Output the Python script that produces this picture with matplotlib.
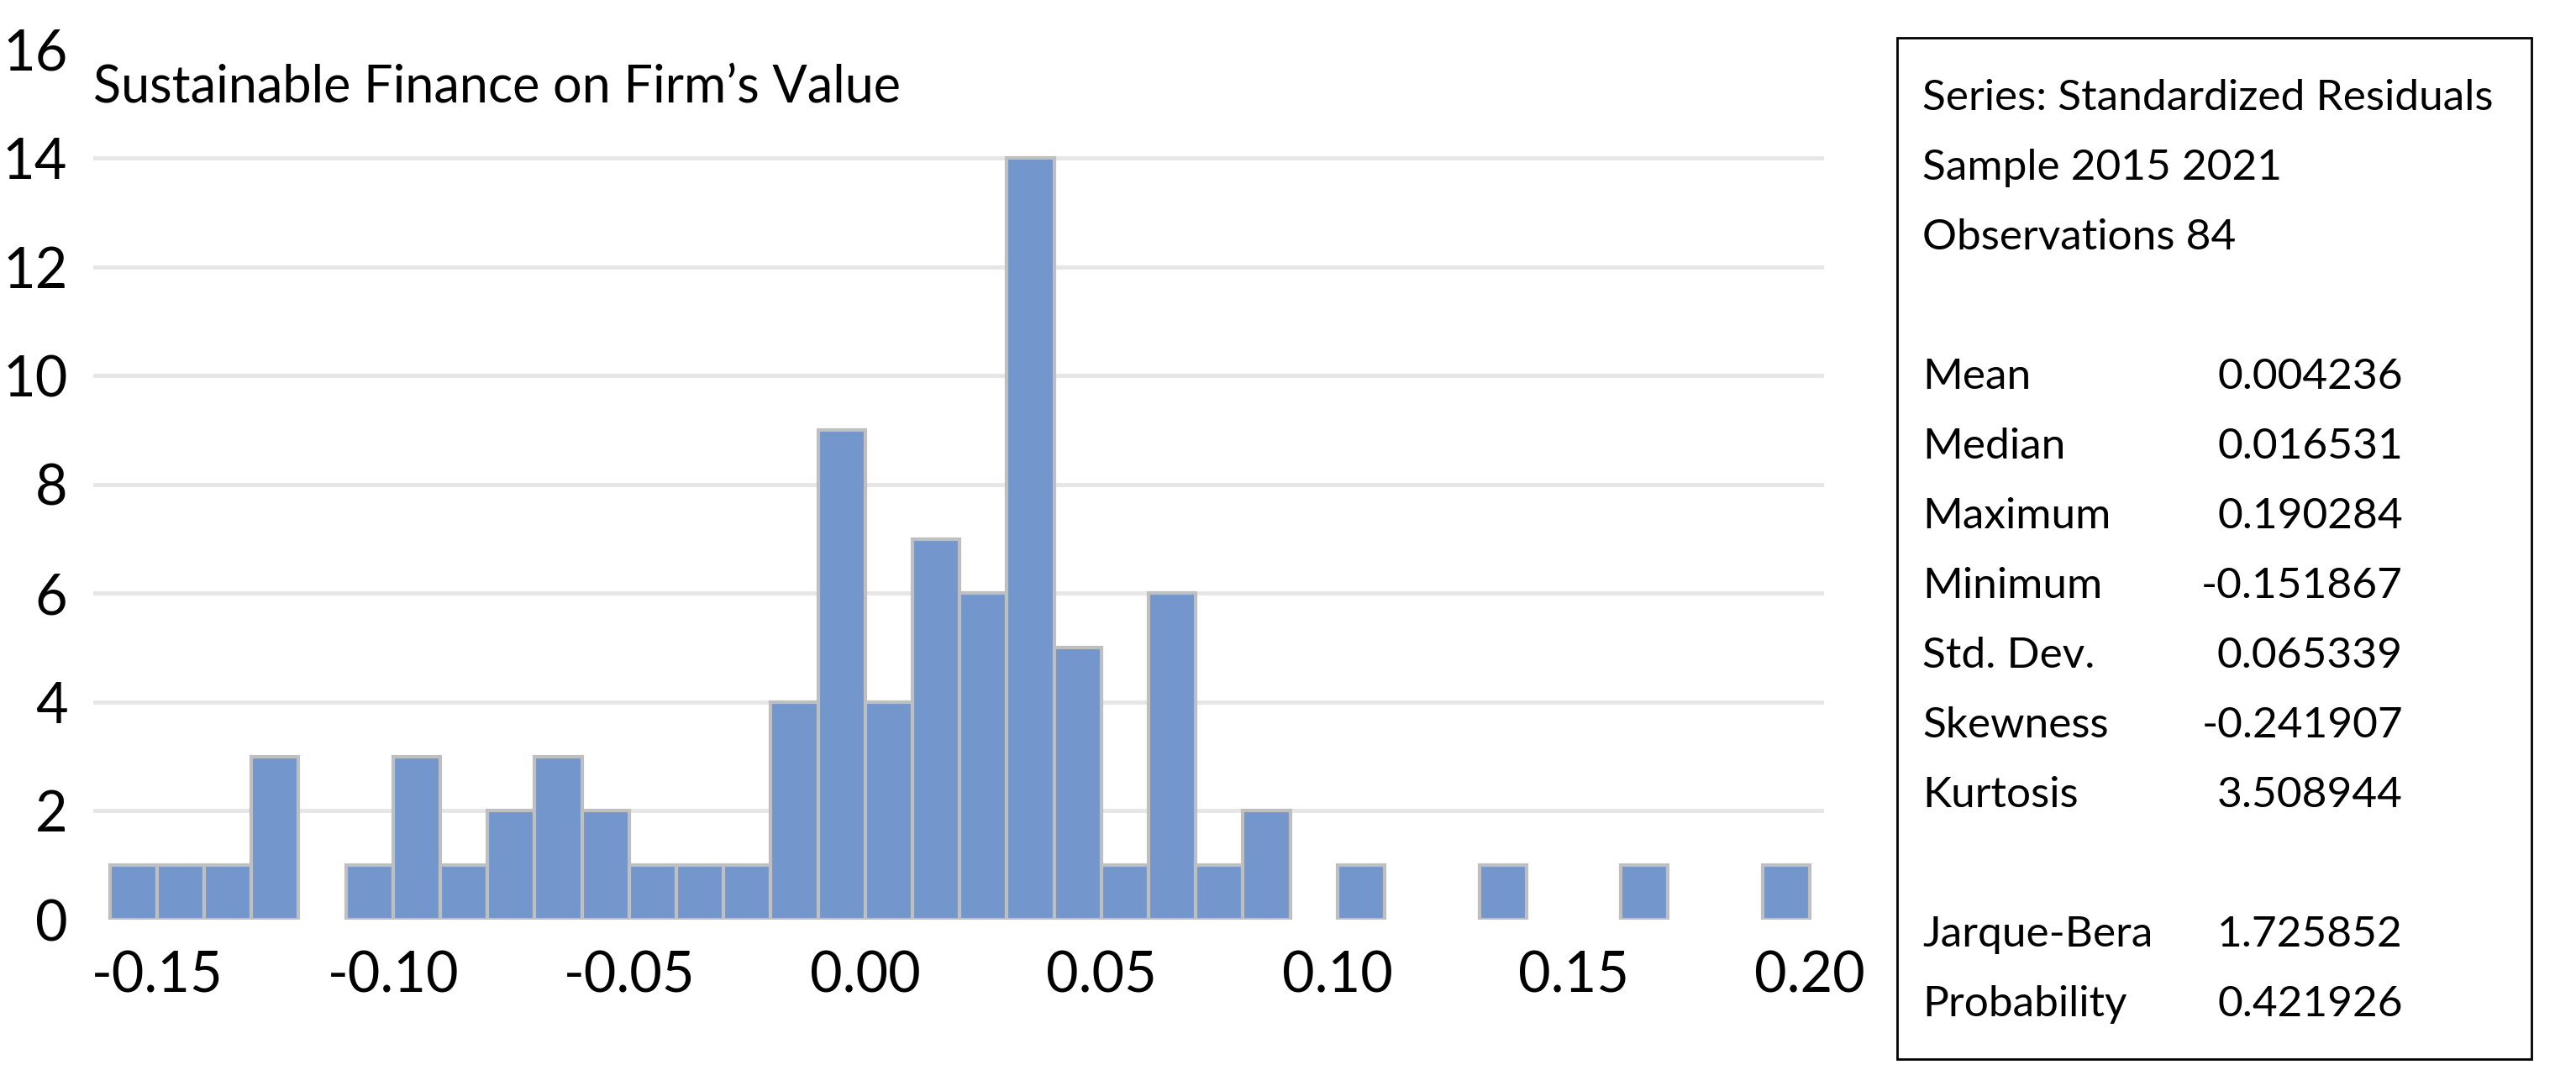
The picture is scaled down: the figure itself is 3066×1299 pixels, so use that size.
import matplotlib
matplotlib.use('Agg')
import matplotlib.pyplot as plt

# histogram of residuals, bins 0.01 wide
bin_left = [-0.16, -0.15, -0.14, -0.13, -0.12, -0.11, -0.10, -0.09, -0.08, -0.07,
            -0.06, -0.05, -0.04, -0.03, -0.02, -0.01, 0.00, 0.01, 0.02, 0.03,
            0.04, 0.05, 0.06, 0.07, 0.08, 0.09, 0.10, 0.11, 0.12, 0.13,
            0.14, 0.15, 0.16, 0.17, 0.18, 0.19]
counts = [1, 1, 1, 3, 0, 1, 3, 1, 2, 3,
          2, 1, 1, 1, 4, 9, 4, 7, 6, 14,
          5, 1, 6, 1, 2, 0, 1, 0, 0, 1,
          0, 0, 1, 0, 0, 1]
xticks = [-0.15, -0.10, -0.05, 0.00, 0.05, 0.10, 0.15, 0.20]
yticks = [0, 2, 4, 6, 8, 10, 12, 14, 16]

title = 'Sustainable Finance on Firm\u2019s Value'
header = ['Series: Standardized Residuals', 'Sample 2015 2021', 'Observations 84']
stat_names = ['Mean', 'Median', 'Maximum', 'Minimum', 'Std. Dev.', 'Skewness', 'Kurtosis']
stat_vals = ['0.004236', '0.016531', '0.190284', '-0.151867', '0.065339', '-0.241907', '3.508944']
test_names = ['Jarque-Bera', 'Probability']
test_vals = ['1.725852', '0.421926']

plt.rcParams['font.family'] = ['Lato', 'DejaVu Sans']

fig = plt.figure(figsize=(30.66, 12.99), dpi=100)
ax = fig.add_axes([0.0362, 0.157, 0.672, 0.798])

xs = [x for x, c in zip(bin_left, counts) if c > 0]
hs = [c for c in counts if c > 0]
ax.bar(xs, hs, width=0.01, align='edge', color='#7396cc', edgecolor='#bfbfbf',
       linewidth=3, zorder=3)

ax.set_xlim(-0.1635, 0.2031)
ax.set_ylim(0, 16)
ax.set_xticks(xticks)
ax.set_xticklabels(['%.2f' % t for t in xticks])
ax.set_yticks(yticks)
ax.tick_params(length=0, labelsize=48, pad=22)
ax.tick_params(axis='x', pad=26)
ax.grid(axis='y', color='#e6e6e6', linewidth=3.5, zorder=0)
ax.yaxis.get_gridlines()[-1].set_visible(False)
ax.yaxis.get_gridlines()[0].set_visible(False)
for s in ax.spines.values():
    s.set_visible(False)

ax.text(0.0, 0.955, title, transform=ax.transAxes, fontsize=44, va='center', ha='left')

# stats box
fig.patches.append(plt.Rectangle((2258 / 3066, 1 - 1261 / 1299), 755 / 3066, 1216 / 1299,
                                 transform=fig.transFigure, fill=False,
                                 edgecolor='black', linewidth=2))
lx = 2288 / 3066
rx = 2860 / 3066
step = 83 / 1299
y0 = 1 - 117 / 1299
fs = 37
for i, t in enumerate(header):
    fig.text(lx, y0 - i * step, t, fontsize=fs, va='center', ha='left')
y1 = y0 - 4 * step
for i, (n, v) in enumerate(zip(stat_names, stat_vals)):
    fig.text(lx, y1 - i * step, n, fontsize=fs, va='center', ha='left')
    fig.text(rx, y1 - i * step, v, fontsize=fs, va='center', ha='right')
y2 = y1 - 8 * step
for i, (n, v) in enumerate(zip(test_names, test_vals)):
    fig.text(lx, y2 - i * step, n, fontsize=fs, va='center', ha='left')
    fig.text(rx, y2 - i * step, v, fontsize=fs, va='center', ha='right')

fig.savefig('out.png', dpi=100)
